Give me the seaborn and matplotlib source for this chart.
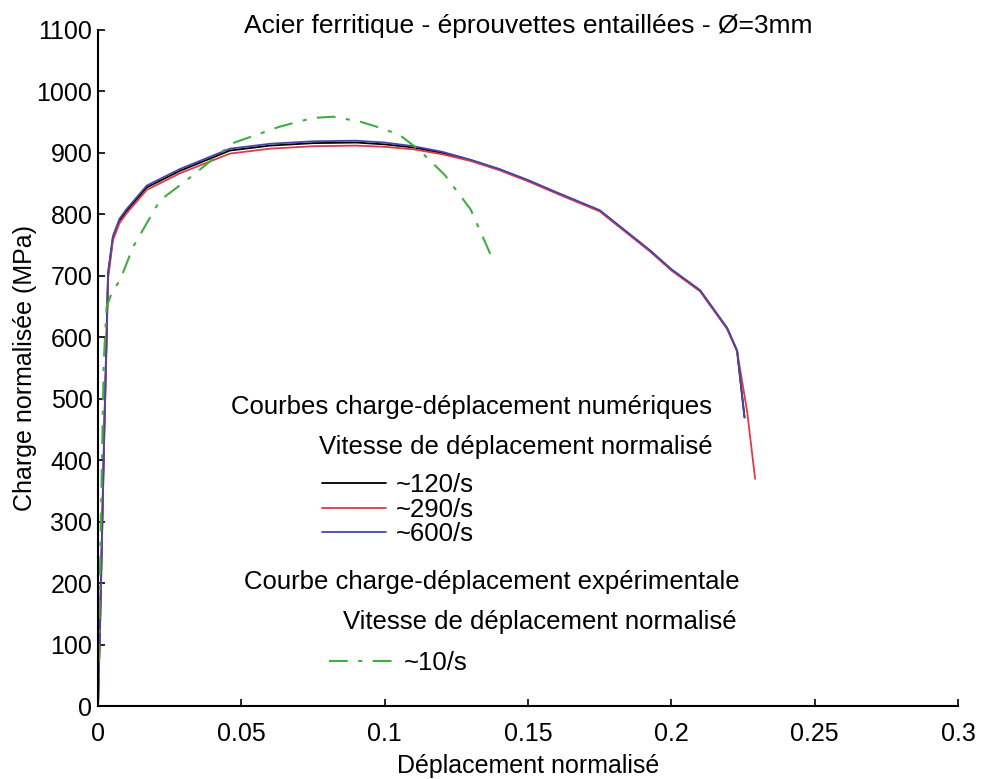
import numpy as np
import pandas as pd
import matplotlib
matplotlib.use("Agg")
import matplotlib.pyplot as plt
import seaborn as sns

# numerical curves
x_120 = [0, 0.0008, 0.0015, 0.0022, 0.003, 0.0035, 0.0052, 0.0075, 0.010, 0.017, 0.0286, 0.046,
         0.060, 0.075, 0.090, 0.100, 0.110, 0.120, 0.130, 0.140, 0.150, 0.160, 0.175, 0.1925,
         0.200, 0.210, 0.2194, 0.2229, 0.2255]
y_120 = [0, 150, 300, 450, 600, 702, 762, 790, 806, 844, 871, 904,
         912, 916, 917, 914, 909, 900, 888, 873, 855, 835, 806, 741,
         710, 676, 615, 578, 470]

x_290 = [0, 0.0008, 0.0015, 0.0022, 0.003, 0.0035, 0.0052, 0.0075, 0.010, 0.017, 0.0286, 0.046,
         0.060, 0.075, 0.090, 0.100, 0.110, 0.120, 0.130, 0.140, 0.150, 0.160, 0.175, 0.1925,
         0.200, 0.210, 0.2194, 0.2229, 0.2264, 0.2292]
y_290 = [0, 140, 290, 440, 590, 695, 758, 786, 802, 840, 867, 899,
         907, 911, 912, 910, 906, 898, 887, 872, 854, 834, 805, 740,
         709, 675, 614, 578, 480, 370]

x_600 = [0, 0.0008, 0.0015, 0.0022, 0.003, 0.0035, 0.0052, 0.0075, 0.010, 0.017, 0.0286, 0.046,
         0.060, 0.075, 0.090, 0.100, 0.110, 0.120, 0.130, 0.140, 0.150, 0.160, 0.175, 0.1925,
         0.200, 0.210, 0.2194, 0.2229, 0.2255]
y_600 = [0, 160, 310, 460, 610, 706, 765, 793, 809, 847, 874, 907,
         915, 919, 920, 917, 911, 902, 889, 874, 856, 836, 807, 742,
         711, 677, 616, 579, 470]

# experimental curve
x_exp = [0, 0.001, 0.002, 0.003, 0.005, 0.0077, 0.0122, 0.0216, 0.031, 0.047, 0.0635, 0.075,
         0.082, 0.0914, 0.097, 0.105, 0.112, 0.121, 0.130, 0.137]
y_exp = [0, 300, 560, 650, 675, 693, 747, 823, 856, 916, 943, 957,
         959, 951, 943, 930, 905, 864, 808, 734]

sns.set_style("ticks")
plt.rcParams['font.family'] = ['Liberation Sans', 'DejaVu Sans']
plt.rcParams['text.color'] = 'black'
plt.rcParams['axes.labelcolor'] = 'black'

fig = plt.figure(figsize=(9.83, 7.79), dpi=100)
ax = fig.add_axes([0.0997, 0.0931, 0.875, 0.8684])

series = [
    (x_120, y_120, "black", "-", "~120/s"),
    (x_290, y_290, "#e03a4a", "-", "~290/s"),
    (x_600, y_600, "#4646a6", "-", "~600/s"),
]
for xs, ys, col, ls, lab in series:
    df = pd.DataFrame({"x": xs, "y": ys})
    sns.lineplot(data=df, x="x", y="y", ax=ax, color=col, linestyle=ls, lw=1.3,
                 sort=False, estimator=None, label=lab, legend=False)

df_exp = pd.DataFrame({"x": x_exp, "y": y_exp})
sns.lineplot(data=df_exp, x="x", y="y", ax=ax, color="#3fae3f", lw=1.5,
             sort=False, estimator=None, label="~10/s", legend=False,
             dashes=False)
ax.get_lines()[-1].set_dashes([9, 5, 2, 5])

ax.set_xlim(0, 0.3)
ax.set_ylim(0, 1100)
ax.set_xticks([0, 0.05, 0.1, 0.15, 0.2, 0.25, 0.3])
ax.set_xticklabels(["0", "0.05", "0.1", "0.15", "0.2", "0.25", "0.3"])
ax.set_yticks(np.arange(0, 1101, 100))
ax.tick_params(direction="in", length=5, width=1.2, labelsize=18, colors="black")
ax.tick_params(axis="x", pad=11)
ax.tick_params(axis="y", pad=4)
for s in ["top", "right"]:
    ax.spines[s].set_visible(False)
for s in ["left", "bottom"]:
    ax.spines[s].set_linewidth(1.5)
    ax.spines[s].set_color("black")

# y given explicitly so matplotlib doesn't push the title up
ax.set_title("Acier ferritique - éprouvettes entaillées - Ø=3mm", fontsize=19, y=1.0, pad=-2)
ax.set_xlabel("Déplacement normalisé", fontsize=18, labelpad=6)
ax.set_ylabel("Charge normalisée (MPa)", fontsize=18, labelpad=0)

fs = 18.5
ax.text(0.714, 0.443, "Courbes charge-déplacement numériques", transform=ax.transAxes,
        ha="right", va="center", fontsize=fs)
ax.text(0.714, 0.384, "Vitesse de déplacement normalisé", transform=ax.transAxes,
        ha="right", va="center", fontsize=fs)
ax.text(0.7465, 0.184, "Courbe charge-déplacement expérimentale", transform=ax.transAxes,
        ha="right", va="center", fontsize=fs)
ax.text(0.743, 0.125, "Vitesse de déplacement normalisé", transform=ax.transAxes,
        ha="right", va="center", fontsize=fs)

lines = ax.get_lines()
leg1 = ax.legend(handles=lines[:3], labels=["~120/s", "~290/s", "~600/s"],
                 loc="upper left", bbox_to_anchor=(0.26, 0.345), frameon=False,
                 fontsize=fs, handlelength=2.5, handletextpad=0.4, labelspacing=0.02,
                 borderpad=0, borderaxespad=0)
ax.add_artist(leg1)
ax.legend(handles=lines[3:], labels=["~10/s"], loc="center left",
          bbox_to_anchor=(0.269, 0.064), frameon=False, fontsize=fs,
          handlelength=2.5, handletextpad=0.4, borderpad=0, borderaxespad=0)

fig.savefig("out.png", dpi=100)
